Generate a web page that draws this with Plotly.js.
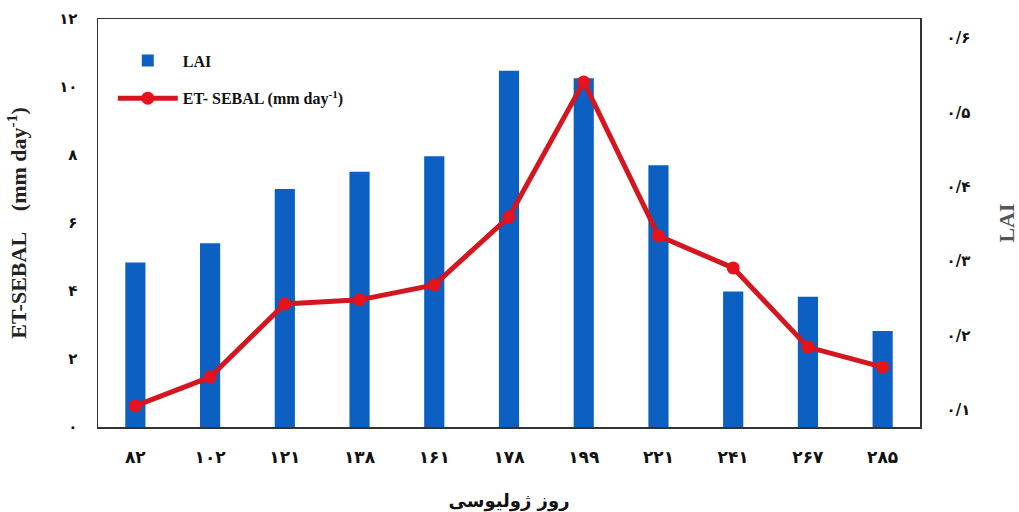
<!DOCTYPE html>
<html>
<head>
<meta charset="utf-8">
<script src="https://cdn.plot.ly/plotly-3.0.1.min.js"></script>
<style>html,body{margin:0;padding:0;background:#fff;}#chart{width:1019px;height:512px;}</style>
</head>
<body>
<div id="chart"></div>
<script>
// Julian day categories (Persian digits as shown)
const days = ['۸۲','۱۰۲','۱۲۱','۱۳۸','۱۶۱','۱۷۸','۱۹۹','۲۲۱','۲۴۱','۲۶۷','۲۸۵'];
// LAI (right axis) – bars
const lai = [0.298, 0.324, 0.397, 0.420, 0.441, 0.556, 0.546, 0.429, 0.259, 0.252, 0.206];
// ET-SEBAL (mm/day, left axis) – line
const et = [0.62, 1.47, 3.62, 3.74, 4.18, 6.18, 10.15, 5.62, 4.68, 2.35, 1.76];

const etTickVals = [0, 2, 4, 6, 8, 10, 12];
const etTickText = ['۰','۲','۴','۶','۸','۱۰','۱۲'];
const laiTickVals = [0.1, 0.2, 0.3, 0.4, 0.5, 0.6];
const laiTickText = ['۰/۱','۰/۲','۰/۳','۰/۴','۰/۵','۰/۶'];

const serif = 'Liberation Serif, DejaVu Serif, DejaVu Sans, serif';

const traces = [
  {
    type: 'bar', x: days, y: lai, name: 'LAI', yaxis: 'y', legendgroup: 'a',
    width: 0.27, marker: {color: '#0b60c1'}
  },
  {
    type: 'scatter', mode: 'lines+markers', x: days, y: et, yaxis: 'y2', legendgroup: 'b',
    name: 'ET- SEBAL (mm day<sup>-1</sup>)',
    line: {color: '#d3161f', width: 5},
    marker: {color: '#e8121c', size: 13}
  }
];

const layout = {
  width: 1019, height: 512,
  margin: {l: 98, r: 99, t: 19, b: 85},
  paper_bgcolor: '#fff', plot_bgcolor: '#fff',
  showlegend: true,
  legend: {
    x: 0.018, y: 0.94, xanchor: 'left', yanchor: 'top',
    bgcolor: 'rgba(0,0,0,0)', tracegroupgap: 14,
    font: {family: serif, size: 16, color: '#111', weight: 'bold'},
    itemwidth: 60
  },
  xaxis: {
    type: 'category', range: [-0.5, 10.5],
    showline: true, linecolor: '#333', linewidth: 1.5, mirror: true,
    showgrid: false, ticks: '', zeroline: false,
    tickfont: {family: 'DejaVu Sans, sans-serif', size: 17, color: '#111', weight: 'bold'},
    ticklabelstandoff: 14,
    title: {text: 'روز ژولیوسی', font: {family: 'DejaVu Sans, sans-serif', size: 18, color: '#111', weight: 'bold'}, standoff: 30}
  },
  yaxis: {
    side: 'right', range: [0.077, 0.6255],
    tickvals: laiTickVals, ticktext: laiTickText,
    showline: true, linecolor: '#333', linewidth: 1.5,
    showgrid: false, zeroline: false, ticks: '',
    tickfont: {family: 'DejaVu Sans, sans-serif', size: 15, color: '#111', weight: 'bold'},
    ticklabelstandoff: 22,
    title: {text: 'LAI', font: {family: serif, size: 22, color: '#555', weight: 'bold'}, standoff: 34}
  },
  yaxis2: {
    side: 'left', overlaying: 'y', range: [0, 12],
    tickvals: etTickVals, ticktext: etTickText,
    showline: true, linecolor: '#333', linewidth: 1.5,
    showgrid: false, zeroline: false, ticks: '',
    tickfont: {family: 'DejaVu Sans, sans-serif', size: 15, color: '#111', weight: 'bold'},
    ticklabelstandoff: 16,
    title: {text: 'ET-SEBAL    (mm day<sup>-1</sup>)', font: {family: serif, size: 22, color: '#222', weight: 'bold'}, standoff: 26}
  }
};

Plotly.newPlot('chart', traces, layout, {displayModeBar: false, staticPlot: true});
</script>
</body>
</html>
